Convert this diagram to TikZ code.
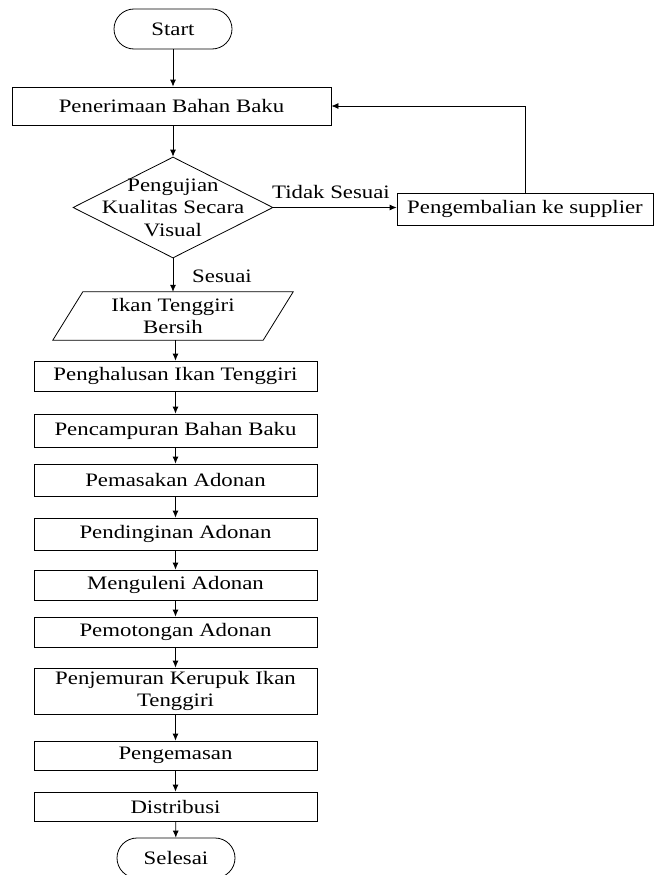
\documentclass[tikz,border=0pt]{standalone}
\usepackage{fontspec}
\setmainfont{Liberation Serif}
\usetikzlibrary{shapes.geometric,arrows.meta,calc}
\newcommand{\hs}[1]{\scalebox{1.2}[1]{#1}}
\begin{document}
\begin{tikzpicture}[x=1pt,y=-1pt,
  font=\fontsize{19}{22.5}\selectfont,
  box/.style={draw, line width=0.8pt, minimum width=283pt, inner sep=0pt, align=center},
  term/.style={draw, line width=0.8pt, rounded corners=20pt, minimum width=118pt, minimum height=40pt, inner sep=0pt},
  arr/.style={-{Latex[length=7pt,width=6pt]}, line width=0.8pt}]
\useasboundingbox (0,0) rectangle (663,875);
\clip (0,0) rectangle (663,875);

\node[term] (start) at (173,29) {\hs{Start}};
\node[box, minimum width=319pt, minimum height=38pt] (pen) at (171.5,106) {\hs{Penerimaan Bahan Baku}};
\node[diamond, draw, line width=0.8pt, minimum width=200pt, minimum height=101pt, inner sep=0pt,
  label={[align=center]center:{\hs{Pengujian}\\\hs{Kualitas Secara}\\\hs{Visual}}}] (uji) at (173,207.5) {};
\node[box, minimum width=256pt, minimum height=32pt] (kem) at (525,209) {\hs{Pengembalian ke supplier}};

\node[draw=none, minimum width=240pt, minimum height=48pt, inner sep=0pt, align=center] (ikan) at (173,316) {\hs{Ikan Tenggiri}\\\hs{Bersih}};
\draw[line width=0.8pt] ($(ikan.north west)+(30,0)$) -- (ikan.north east) -- ($(ikan.south east)+(-30,0)$) -- (ikan.south west) -- cycle;

\node[box, minimum height=30pt] (hal) at (175.5,376) {\hs{Penghalusan Ikan Tenggiri}};
\node[box, minimum height=33pt] (cam) at (175.5,430.5) {\hs{Pencampuran Bahan Baku}};
\node[box, minimum height=32pt] (mas) at (175.5,480) {\hs{Pemasakan Adonan}};
\node[box, minimum height=32pt] (ding) at (175.5,534) {\hs{Pendinginan Adonan}};
\node[box, minimum height=30pt] (ulen) at (175.5,585) {\hs{Menguleni Adonan}};
\node[box, minimum height=30pt] (pot) at (175.5,632) {\hs{Pemotongan Adonan}};
\node[box, minimum height=46pt] (jem) at (175.5,691) {\hs{Penjemuran Kerupuk Ikan}\\\hs{Tenggiri}};
\node[box, minimum height=29pt] (kms) at (175.5,755.5) {\hs{Pengemasan}};
\node[box, minimum height=29pt] (dist) at (175.5,806.5) {\hs{Distribusi}};
\node[term] (sel) at (176,858) {\hs{Selesai}};

\node (ts) at (331,192) {\hs{Tidak Sesuai}};
\node (ss) at (222,276) {\hs{Sesuai}};

\draw[arr] (start.south) -- (start.south |- pen.north);
\draw[arr] (pen.south -| uji.north) -- (uji.north);
\draw[arr] (uji.south) -- (uji.south |- ikan.north);
\draw[arr] (ikan.south -| hal.north) -- (hal.north);
\draw[arr] (hal) -- (cam);
\draw[arr] (cam) -- (mas);
\draw[arr] (mas) -- (ding);
\draw[arr] (ding) -- (ulen);
\draw[arr] (ulen) -- (pot);
\draw[arr] (pot) -- (jem);
\draw[arr] (jem) -- (kms);
\draw[arr] (kms) -- (dist);
\draw[arr] (dist) -- (sel);
\draw[arr] (uji.east) -- (uji.east -| kem.west);
\draw[arr] (kem.north) |- (pen.east);
\end{tikzpicture}
\end{document}
